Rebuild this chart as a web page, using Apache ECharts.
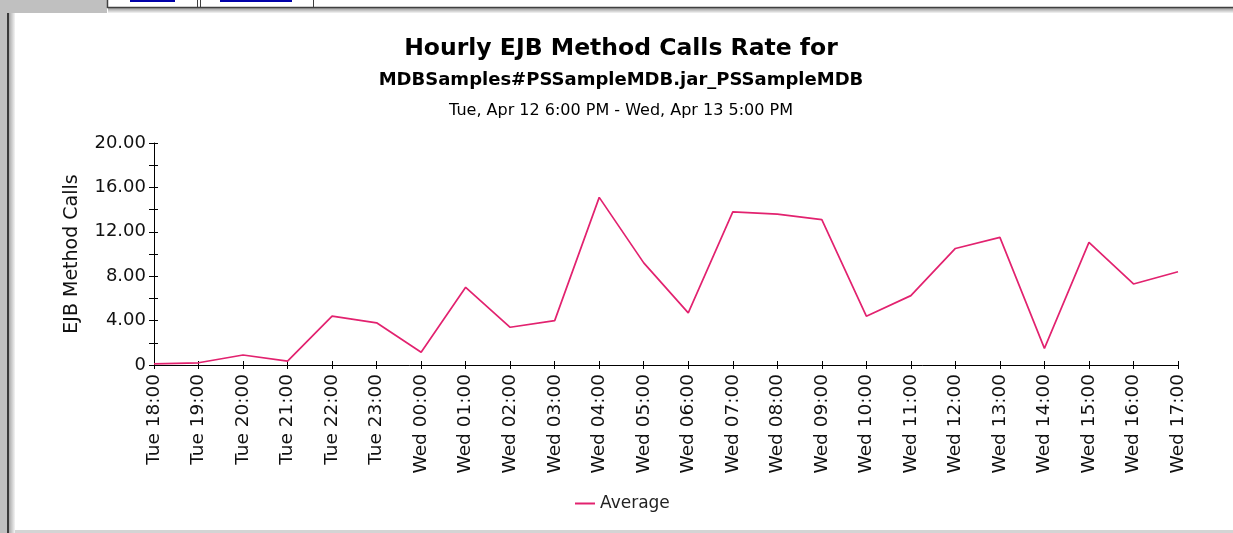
<!DOCTYPE html>
<html>
<head>
<meta charset="utf-8">
<script src="https://cdn.jsdelivr.net/npm/echarts@6/dist/echarts.min.js"></script>
<style>
html,body{margin:0;padding:0;background:#fff;}
#chart{width:1233px;height:533px;}
</style>
</head>
<body>
<div id="chart"></div>
<script>
var titleText = 'Hourly EJB Method Calls Rate for';
var subtitleText = 'MDBSamples#PSSampleMDB.jar_PSSampleMDB';
var rangeText = 'Tue, Apr 12 6:00 PM - Wed, Apr 13 5:00 PM';
var yAxisName = 'EJB Method Calls';
var seriesName = 'Average';
var categories = ['Tue 18:00','Tue 19:00','Tue 20:00','Tue 21:00','Tue 22:00','Tue 23:00',
  'Wed 00:00','Wed 01:00','Wed 02:00','Wed 03:00','Wed 04:00','Wed 05:00','Wed 06:00',
  'Wed 07:00','Wed 08:00','Wed 09:00','Wed 10:00','Wed 11:00','Wed 12:00','Wed 13:00',
  'Wed 14:00','Wed 15:00','Wed 16:00','Wed 17:00'];
var averageValues = [0.1,0.2,0.9,0.35,4.4,3.8,1.15,7.0,3.4,4.0,15.1,9.2,4.7,13.8,13.6,13.1,
  4.4,6.25,10.5,11.5,1.5,11.05,7.3,8.4];
var yMin = 0, yMax = 20, yStep = 2, yLabelStep = 4;

var chart = echarts.init(document.getElementById('chart'));
var FONT = 'DejaVu Sans';
var lineColor = '#e2226f';

var shadowGradV = new echarts.graphic.LinearGradient(0,0,0,1,[
  {offset:0,color:'#9a9a9a'},{offset:1,color:'#f4f4f4'}]);
var shadowGradH = new echarts.graphic.LinearGradient(0,0,1,0,[
  {offset:0,color:'#a8a8a8'},{offset:1,color:'#f4f4f4'}]);

var option = {
  backgroundColor: '#ffffff',
  animation: false,
  title: [
    {text: titleText, left: 616, textAlign: 'center', top: 32,
     textStyle: {fontFamily: FONT, fontSize: 23.5, fontWeight: 'bold', color: '#000'}},
    {text: subtitleText, left: 616, textAlign: 'center', top: 66,
     textStyle: {fontFamily: FONT, fontSize: 18, fontWeight: 'bold', color: '#000'}},
    {text: rangeText, left: 616, textAlign: 'center', top: 98,
     textStyle: {fontFamily: FONT, fontSize: 16, fontWeight: 'normal', color: '#000'}}
  ],
  legend: {
    data: [seriesName], left: 570, top: 490, icon: 'rect', itemWidth: 20, itemHeight: 2,
    itemGap: 5,
    textStyle: {fontFamily: FONT, fontSize: 17, color: '#222'}
  },
  grid: {left: 154, right: 55, top: 143, bottom: 168},
  xAxis: [
    {type: 'category', data: categories, boundaryGap: false, position: 'bottom',
     axisLine: {show: true, onZero: false, lineStyle: {color: '#000', width: 1}},
     axisTick: {show: true, inside: false, length: 4, interval: 0, lineStyle: {color: '#000'}},
     axisLabel: {rotate: 90, interval: 0, margin: 9, fontFamily: FONT, fontSize: 18.5, color: '#111'},
     splitLine: {show: false}},
    {type: 'category', data: categories, boundaryGap: false, position: 'bottom',
     axisLine: {show: false, onZero: false},
     axisTick: {show: true, inside: true, length: 4, interval: 0, lineStyle: {color: '#000'}},
     axisLabel: {show: false}, splitLine: {show: false}}
  ],
  yAxis: [
    {type: 'value', min: yMin, max: yMax, interval: yStep, position: 'left',
     name: yAxisName, nameLocation: 'middle', nameGap: 72, nameRotate: 90,
     nameTextStyle: {fontFamily: FONT, fontSize: 19, color: '#111'},
     axisLine: {show: true, lineStyle: {color: '#000', width: 1}},
     axisTick: {show: true, inside: false, length: 5, lineStyle: {color: '#000'}},
     axisLabel: {margin: 8, fontFamily: FONT, fontSize: 18, color: '#111',
       formatter: function (v) {
         if (v % yLabelStep !== 0) return '';
         return v === 0 ? '0' : v.toFixed(2);
       }},
     splitLine: {show: false}},
    {type: 'value', min: yMin, max: yMax, interval: yStep, position: 'left',
     axisLine: {show: false},
     axisTick: {show: true, inside: true, length: 4, lineStyle: {color: '#000'}},
     axisLabel: {show: false}, splitLine: {show: false}}
  ],
  series: [{
    name: seriesName, type: 'line', data: averageValues, xAxisIndex: 0, yAxisIndex: 0,
    symbol: 'none', lineStyle: {color: lineColor, width: 1.7}, itemStyle: {color: lineColor}
  }],
  graphic: [
    {type: 'rect', shape: {x: 0, y: 0, width: 8, height: 533}, style: {fill: '#c0c0c0'}, silent: true},
    {type: 'rect', shape: {x: 0, y: 0, width: 107, height: 13}, style: {fill: '#c0c0c0'}, silent: true},
    {type: 'rect', shape: {x: 9, y: 13, width: 6, height: 520}, style: {fill: shadowGradH}, silent: true},
    {type: 'rect', shape: {x: 108, y: 8, width: 1125, height: 5}, style: {fill: shadowGradV}, silent: true},
    {type: 'line', shape: {x1: 8, y1: 13, x2: 8, y2: 533}, style: {stroke: '#3a3a3a', lineWidth: 2}, silent: true},
    {type: 'line', shape: {x1: 107, y1: 7.5, x2: 1233, y2: 7.5}, style: {stroke: '#404040', lineWidth: 1.5}, silent: true},
    {type: 'line', shape: {x1: 107.5, y1: 0, x2: 107.5, y2: 8}, style: {stroke: '#404040', lineWidth: 1.5}, silent: true},
    {type: 'line', shape: {x1: 197.5, y1: 0, x2: 197.5, y2: 8}, style: {stroke: '#404040', lineWidth: 1}, silent: true},
    {type: 'line', shape: {x1: 200.5, y1: 0, x2: 200.5, y2: 8}, style: {stroke: '#404040', lineWidth: 1}, silent: true},
    {type: 'line', shape: {x1: 313.5, y1: 0, x2: 313.5, y2: 8}, style: {stroke: '#404040', lineWidth: 1}, silent: true},
    {type: 'rect', shape: {x: 130, y: 0, width: 45, height: 2}, style: {fill: '#0000a8'}, silent: true},
    {type: 'rect', shape: {x: 220, y: 0, width: 72, height: 2}, style: {fill: '#0000a8'}, silent: true},
    {type: 'rect', shape: {x: 15, y: 530, width: 1218, height: 3}, style: {fill: '#d4d4d4'}, silent: true}
  ]
};
chart.setOption(option);
</script>
</body>
</html>
